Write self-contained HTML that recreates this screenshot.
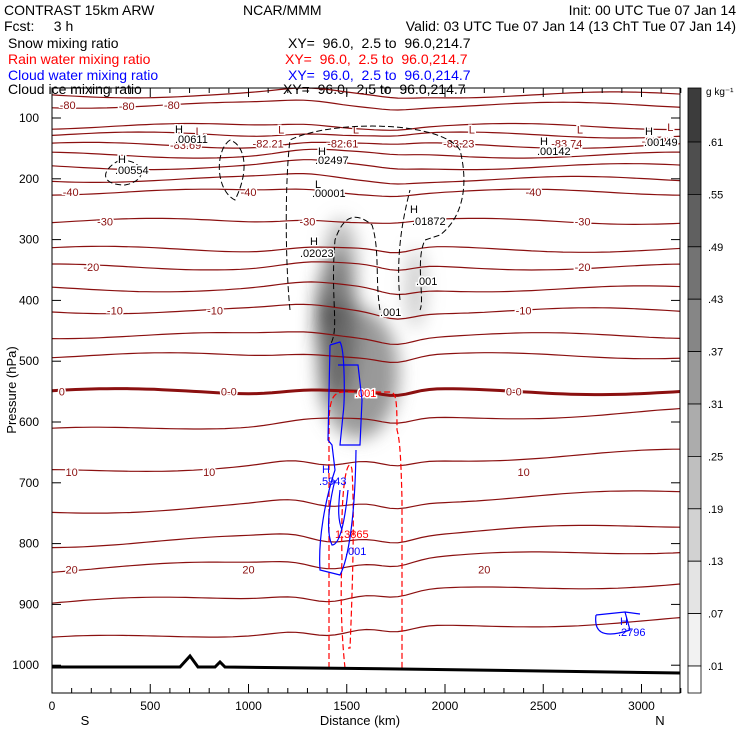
<!DOCTYPE html>
<html><head><meta charset="utf-8">
<style>
html,body{margin:0;padding:0;background:#fff;}
svg{display:block;font-family:"Liberation Sans",sans-serif;}
svg text{white-space:pre;}
.lbl{paint-order:stroke;stroke:#fff;stroke-width:3px;}
</style></head>
<body>
<svg id="chart" width="740" height="740" viewBox="0 0 740 740" xmlns="http://www.w3.org/2000/svg" xml:space="preserve">
<defs>
<filter id="blur" x="-50%" y="-50%" width="200%" height="200%"><feGaussianBlur stdDeviation="9"/></filter>
<clipPath id="plotclip"><rect x="52" y="88" width="628" height="605"/></clipPath>
</defs>
<g font-size="14">
<text x="4" y="15">CONTRAST 15km ARW</text>
<text x="243" y="15">NCAR/MMM</text>
<text x="736" y="15" text-anchor="end">Init: 00 UTC Tue 07 Jan 14</text>
<text x="4" y="31">Fcst:     3 h</text>
<text x="736" y="31" text-anchor="end">Valid: 03 UTC Tue 07 Jan 14 (13 ChT Tue 07 Jan 14)</text>
<text x="8" y="48">Snow mixing ratio</text>
<text x="288" y="48">XY=  96.0,  2.5 to  96.0,214.7</text>
<text x="8" y="64" fill="#ff0000">Rain water mixing ratio</text>
<text x="285" y="64" fill="#ff0000">XY=  96.0,  2.5 to  96.0,214.7</text>
<text x="8" y="80" fill="#0000ff">Cloud water mixing ratio</text>
<text x="288" y="80" fill="#0000ff">XY=  96.0,  2.5 to  96.0,214.7</text>
<text x="8" y="94">Cloud ice mixing ratio</text>
<text x="283" y="94">XY=  96.0,  2.5 to  96.0,214.7</text>
</g>
<g id="plot" clip-path="url(#plotclip)"></g>
<g id="axes"></g>
<g id="cbar"></g>
</svg>
<script>
// ---- data ----
const xTicks = [0,500,1000,1500,2000,2500,3000];
const yTicks = [100,200,300,400,500,600,700,800,900,1000];
const cbarLabels = [".61",".55",".49",".43",".37",".31",".25",".19",".13",".07",".01"];
const cbarShades = ["#3c3c3c","#4e4e4e","#606060","#737373","#868686","#999999","#acacac","#bfbfbf","#d2d2d2","#e4e4e4","#f2f2f2","#ffffff"];
// isotherm left-edge pressures (hPa) and temperature of each line
const isoPress = [62,79,114,128,145,161,180,201,222,270,316,345,381,417,458,491,550,615,682,748,802,843,898,958];
const isoTemp  = [-85,-80,-85,-80,-75,-70,-65,-60,-40,-35,-30,-25,-20,-15,-10,-5,0,5,10,15,20,20,25,30];
const isoLabels = [
 {t:"-80",x:80,p:79},{t:"-80",x:610,p:79},{t:"-80",x:380,p:80},{t:"-40",x:95,p:222},{t:"-40",x:2450,p:222},{t:"-40",x:1000,p:222},
 {t:"-30",x:270,p:270},{t:"-30",x:1300,p:270},{t:"-30",x:2700,p:270},{t:"-20",x:200,p:345},{t:"-20",x:2700,p:345},
 {t:"-10",x:320,p:417},{t:"-10",x:830,p:417},{t:"-10",x:2400,p:417},{t:"0",x:50,p:550},{t:"0-0",x:900,p:550},{t:"0-0",x:2350,p:550},
 {t:"10",x:100,p:682},{t:"10",x:800,p:682},{t:"10",x:2400,p:682},{t:"20",x:100,p:843},{t:"20",x:1000,p:843},{t:"20",x:2200,p:843}];
// ice extremum labels [km, hPa, text]
const iceMarks = [[680,115,"-83.69"],[1100,112,"-82.21"],[1480,112,"-82.61"],[2070,112,"-83.23"],[2620,112,"-83.74"],[3080,108,"-83.27"]];
// ---- scales ----
const X0=52, PX=0.1965, Y100=118, PY=0.608;
const sx = km => X0 + km*PX;
const sy = p => Y100 + (p-100)*PY;
const NS="http://www.w3.org/2000/svg";
function el(tag, attrs, parent){const e=document.createElementNS(NS,tag);for(const k in attrs)e.setAttribute(k,attrs[k]);parent.appendChild(e);return e;}
const plot=document.getElementById('plot'), axes=document.getElementById('axes'), cbar=document.getElementById('cbar');

// shading (snow)
const shade=el('g',{filter:'url(#blur)'},plot);


el('ellipse',{cx:sx(1450),cy:sy(440),rx:20,ry:75,fill:'#222',opacity:0.85},shade);
el('ellipse',{cx:sx(1560),cy:sy(520),rx:40,ry:65,fill:'#777',opacity:0.75},shade);
el('ellipse',{cx:sx(1470),cy:sy(340),rx:16,ry:45,fill:'#999',opacity:0.7},shade);
el('ellipse',{cx:sx(1850),cy:sy(380),rx:10,ry:40,fill:'#aaa',opacity:0.6},shade);

// isotherms
function wiggle(km,p,i){
  let d=0;
  d += 6*Math.exp(-Math.pow((km-1750)/120,2))*(p>300?1:0.3);
  d -= 4*Math.exp(-Math.pow((km-1300)/200,2));
  d += 3*Math.sin(km/260+i);
  if(p>650) d += 8*Math.exp(-Math.pow((km-1400)/150,2));
  return d - (km/3200)*(p>600? 20:0);
}
isoPress.forEach((p,i)=>{
  let d="";
  for(let km=0;km<=3200;km+=40){const y=sy(p)+wiggle(km,p,i);d+=(km?"L":"M")+sx(km).toFixed(1)+","+y.toFixed(1);}
  const path=el('path',{d:d,fill:'none',stroke:'#8b1010','stroke-width':isoTemp[i]===0?3:1.2},plot);
  
  
});
isoLabels.forEach(l=>{
  const t=el('text',{x:sx(l.x),y:sy(l.p)+4,'font-size':11,fill:'#8b1010','text-anchor':'middle','class':'lbl'},plot);
  t.textContent=l.t;
  
  
});
iceMarks.forEach(m=>{
  const t=el('text',{x:sx(m[0]),y:sy(m[1])+22,'font-size':11,fill:'#8b1010','text-anchor':'middle','class':'lbl'},plot);
  t.textContent=m[2];
  
  
  const L=el('text',{x:sx(m[0])+10,y:sy(m[1])+8,'font-size':11,fill:'#8b1010','class':'lbl'},plot);
  L.textContent="L";
  
  
});

// cloud ice dashed contours (black)
const ice=el('g',{fill:'none',stroke:'#000','stroke-width':1,'stroke-dasharray':'6,3'},plot);


el('path',{d:"M290,310 C285,260 285,180 290,140 C330,120 440,120 460,150 C470,190 460,220 440,235 L425,240 C415,260 425,300 420,310 M400,300 C395,250 405,210 410,190 M380,310 C375,280 380,250 372,225 C360,215 345,210 335,240 C330,300 340,330 330,345"},ice);
el('path',{d:"M230,140 C215,150 215,190 235,200 C250,170 245,145 230,140 M120,160 C100,170 100,185 125,185 C150,180 145,160 120,160"},ice);
const iceLab=[[310,245,"H"],[300,257,".02023"],[315,188,"L"],[312,197,".00001"],[318,155,"H"],[315,164,".02497"],[410,213,"H"],[412,225,".01872"],[380,316,".001"],[416,285,".001"],[175,133,"H"],[175,143,".00611"],[118,163,"H"],[115,174,".00554"],[540,145,"H"],[537,155,".00142"],[645,135,"H"],[644,146,".00149"]];
iceLab.forEach(a=>{const t=el('text',{x:a[0],y:a[1],'font-size':11,fill:'#000','class':'lbl'},plot);t.textContent=a[2];
 
 });

// rain dashed (red)
const rain=el('g',{fill:'none',stroke:'#ff0000','stroke-width':1.2,'stroke-dasharray':'6,3'},plot);


el('path',{d:"M329,668 L329,420 C330,395 335,392 345,392 L390,392 C396,392 397,400 397,430 C400,440 401,460 402,500 L402,668 M345,668 C342,640 340,600 342,560 C340,470 350,455 352,470 C355,520 352,600 350,648 L348,648"},rain);
const rl=el('text',{x:355,y:397,'font-size':11,fill:'#ff0000','class':'lbl'},plot);rl.textContent=".001";

const rl2=el('text',{x:335,y:538,'font-size':11,fill:'#ff0000'},plot);rl2.textContent="1.3865";


// cloud water (blue)
const cw=el('g',{fill:'none',stroke:'#0000ff','stroke-width':1.2},plot);


el('path',{d:"M330,345 L340,342 C345,350 345,400 343,415 L340,445 L360,445 L362,400 L358,365 L338,365 M330,345 L328,440 L332,445 L335,470 C325,500 318,540 320,570 L340,575 C348,560 355,520 356,450 M335,480 C330,500 325,530 332,545 C340,545 345,520 348,490 M340,490 C338,510 338,520 342,530"},cw);
el('path',{d:"M596,615 L625,612 L640,614 M596,615 C594,630 600,640 630,630 L625,612"},cw);
const cwl=[[322,473,"H"],[319,485,".5943"],[345,555,".001"],[620,625,"H"],[618,636,".2796"]];
cwl.forEach(a=>{const t=el('text',{x:a[0],y:a[1],'font-size':11,fill:'#0000ff'},plot);t.textContent=a[2];
 
 });

// terrain
const terr=el('path',{d:"M52,667 L180,667 L190,656 L198,667 L215,667 L220,662 L225,667 L400,669 L680,673",fill:'none',stroke:'#000','stroke-width':3},plot);



// axes frame
const frame=el('rect',{x:52,y:88,width:628,height:605,fill:'none',stroke:'#000','stroke-width':1},axes);


for(let km=0;km<=3200;km+=100){
  const major=km%500===0;
  el('line',{x1:sx(km),x2:sx(km),y1:693,y2:693-(major?9:5),stroke:'#000'},axes);
  el('line',{x1:sx(km),x2:sx(km),y1:88,y2:88+(major?9:5),stroke:'#000'},axes);
}
xTicks.forEach(v=>{const t=el('text',{x:sx(v),y:710,'font-size':12,'text-anchor':'middle'},axes);t.textContent=v;
 });
yTicks.forEach(v=>{el('line',{x1:52,x2:61,y1:sy(v),y2:sy(v),stroke:'#000'},axes);el('line',{x1:680,x2:671,y1:sy(v),y2:sy(v),stroke:'#000'},axes);
 const t=el('text',{x:39,y:sy(v)+4,'font-size':12,'text-anchor':'end'},axes);t.textContent=v;
 });
[["S",85,725,"south-label"],["N",660,725,"north-label"],["Distance (km)",360,725,"x-axis-title"]].forEach(a=>{
 const t=el('text',{x:a[1],y:a[2],'font-size':13,'text-anchor':'middle'},axes);t.textContent=a[0];
 });
const yt=el('text',{x:16,y:390,'font-size':13,'text-anchor':'middle',transform:'rotate(-90 16 390)'},axes);yt.textContent="Pressure (hPa)";


// colorbar
const cbTop=88, seg=52.4;
cbarShades.forEach((c,i)=>{
  const y0 = i===0?cbTop:142+(i-1)*seg;
  const y1 = Math.min(142+i*seg,693);
  const r=el('rect',{x:688,y:y0,width:13,height:y1-y0,fill:c,stroke:'#000','stroke-width':0.8},cbar);
  
  
});
cbarLabels.forEach((l,i)=>{const t=el('text',{x:708,y:142+i*seg+4,'font-size':11},cbar);t.textContent=l;
 });
const unit=el('text',{x:706,y:95,'font-size':10},cbar);unit.textContent="g kg⁻¹";

</script>
</body></html>
